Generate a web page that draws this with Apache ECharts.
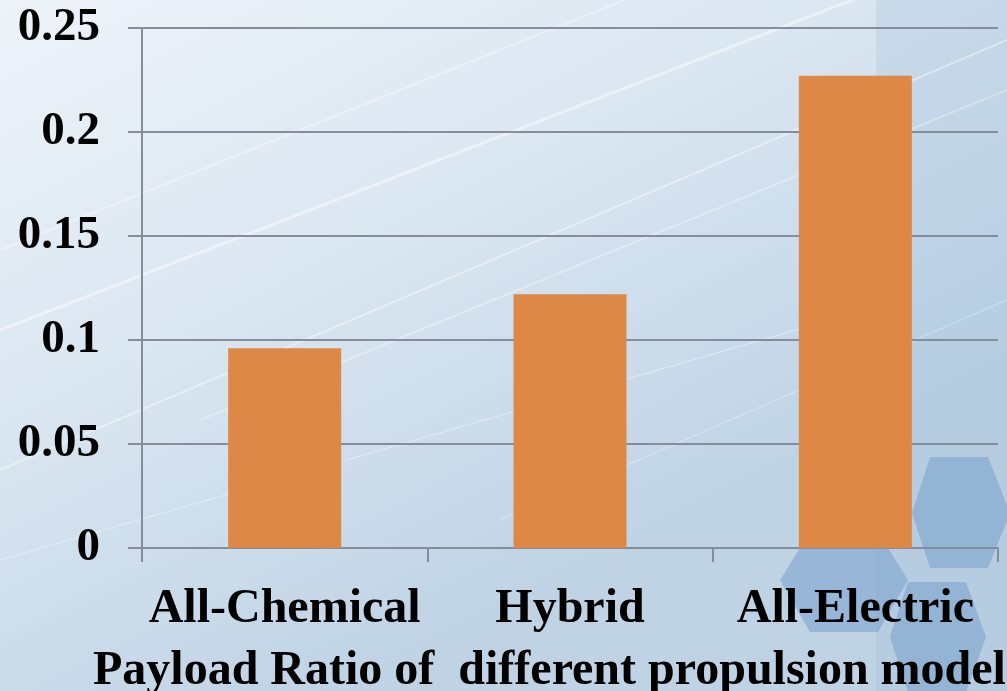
<!DOCTYPE html>
<html>
<head>
<meta charset="utf-8">
<script src="https://cdn.jsdelivr.net/npm/echarts@6/dist/echarts.min.js"></script>
<style>
  html, body { margin: 0; padding: 0; }
  #chart { width: 1007px; height: 691px; }
</style>
</head>
<body>
<div id="chart"></div>
<script>
const categories = ['All-Chemical', 'Hybrid', 'All-Electric']
const payloadRatio = [0.096, 0.122, 0.227]
const yTicks = { min: 0, max: 0.25, interval: 0.05 }
const axisTitle = 'Payload Ratio of  different propulsion model'

const font = '"Liberation Serif", "Times New Roman", serif'
const lineColor = '#878c9c'

let myChart = echarts.init(document.getElementById('chart'))

// decorative backdrop: side panel, light streaks, hexagons
const hex = (pts, color) => ({
  type: 'polygon',
  z: -10,
  silent: true,
  shape: { points: pts },
  style: { fill: color }
})
const streak = (x1, y1, x2, y2, w, o) => ({
  type: 'line',
  z: -11,
  silent: true,
  shape: { x1, y1, x2, y2 },
  style: { stroke: 'rgba(255,255,255,' + o + ')', lineWidth: w }
})

let option = {
  backgroundColor: {
    type: 'linear', x: 0, y: 0, x2: 0.35, y2: 1,
    colorStops: [
      { offset: 0, color: '#eef3f9' },
      { offset: 0.5, color: '#dae6f1' },
      { offset: 1, color: '#bfd3e5' }
    ]
  },
  title: {
    text: axisTitle,
    left: 88,
    top: 643,
    textStyle: { fontFamily: font, fontSize: 48, fontWeight: 'bold', color: '#000' }
  },
  grid: { left: 142, right: 9, top: 28, bottom: 143 },
  graphic: [
    {
      type: 'rect', z: -12, silent: true,
      shape: { x: 876, y: 0, width: 131, height: 691 },
      style: { fill: 'rgba(150,180,210,0.22)' }
    },
    streak(0, 330, 1007, -60, 3, 0.45),
    streak(0, 470, 1007, 40, 2, 0.4),
    streak(200, 420, 1007, 90, 2, 0.3),
    streak(0, 250, 700, -30, 2, 0.35),
    streak(0, 560, 900, 300, 1.5, 0.3),
    streak(500, 520, 1007, 300, 1.5, 0.25),
    hex([[780, 580], [800, 548], [888, 548], [908, 580], [878, 632], [810, 632]], 'rgba(120,160,205,0.55)'),
    hex([[912, 513], [930, 457], [988, 457], [1010, 513], [988, 568], [930, 568]], 'rgba(120,160,205,0.55)'),
    hex([[890, 637], [908, 582], [966, 582], [986, 637], [966, 692], [908, 692]], 'rgba(120,160,205,0.55)')
  ],
  xAxis: {
    type: 'category',
    data: categories,
    axisLine: { lineStyle: { color: lineColor, width: 2 } },
    axisTick: { show: true, interval: 0, length: 14, lineStyle: { color: lineColor, width: 2 } },
    axisLabel: { interval: 0, margin: 38, fontFamily: font, fontSize: 48, fontWeight: 'bold', color: '#000' }
  },
  yAxis: {
    type: 'value',
    min: yTicks.min,
    max: yTicks.max,
    interval: yTicks.interval,
    axisLine: { show: true, lineStyle: { color: lineColor, width: 2 } },
    axisTick: { show: true, length: 14, lineStyle: { color: lineColor, width: 2 } },
    splitLine: { lineStyle: { color: lineColor, width: 2 } },
    axisLabel: { margin: 42, fontFamily: font, fontSize: 47, fontWeight: 'bold', color: '#000' }
  },
  series: [
    {
      name: 'Payload Ratio',
      type: 'bar',
      barWidth: 113,
      data: payloadRatio,
      itemStyle: { color: '#dd8846' }
    }
  ]
}

myChart.setOption(option)
</script>
</body>
</html>
